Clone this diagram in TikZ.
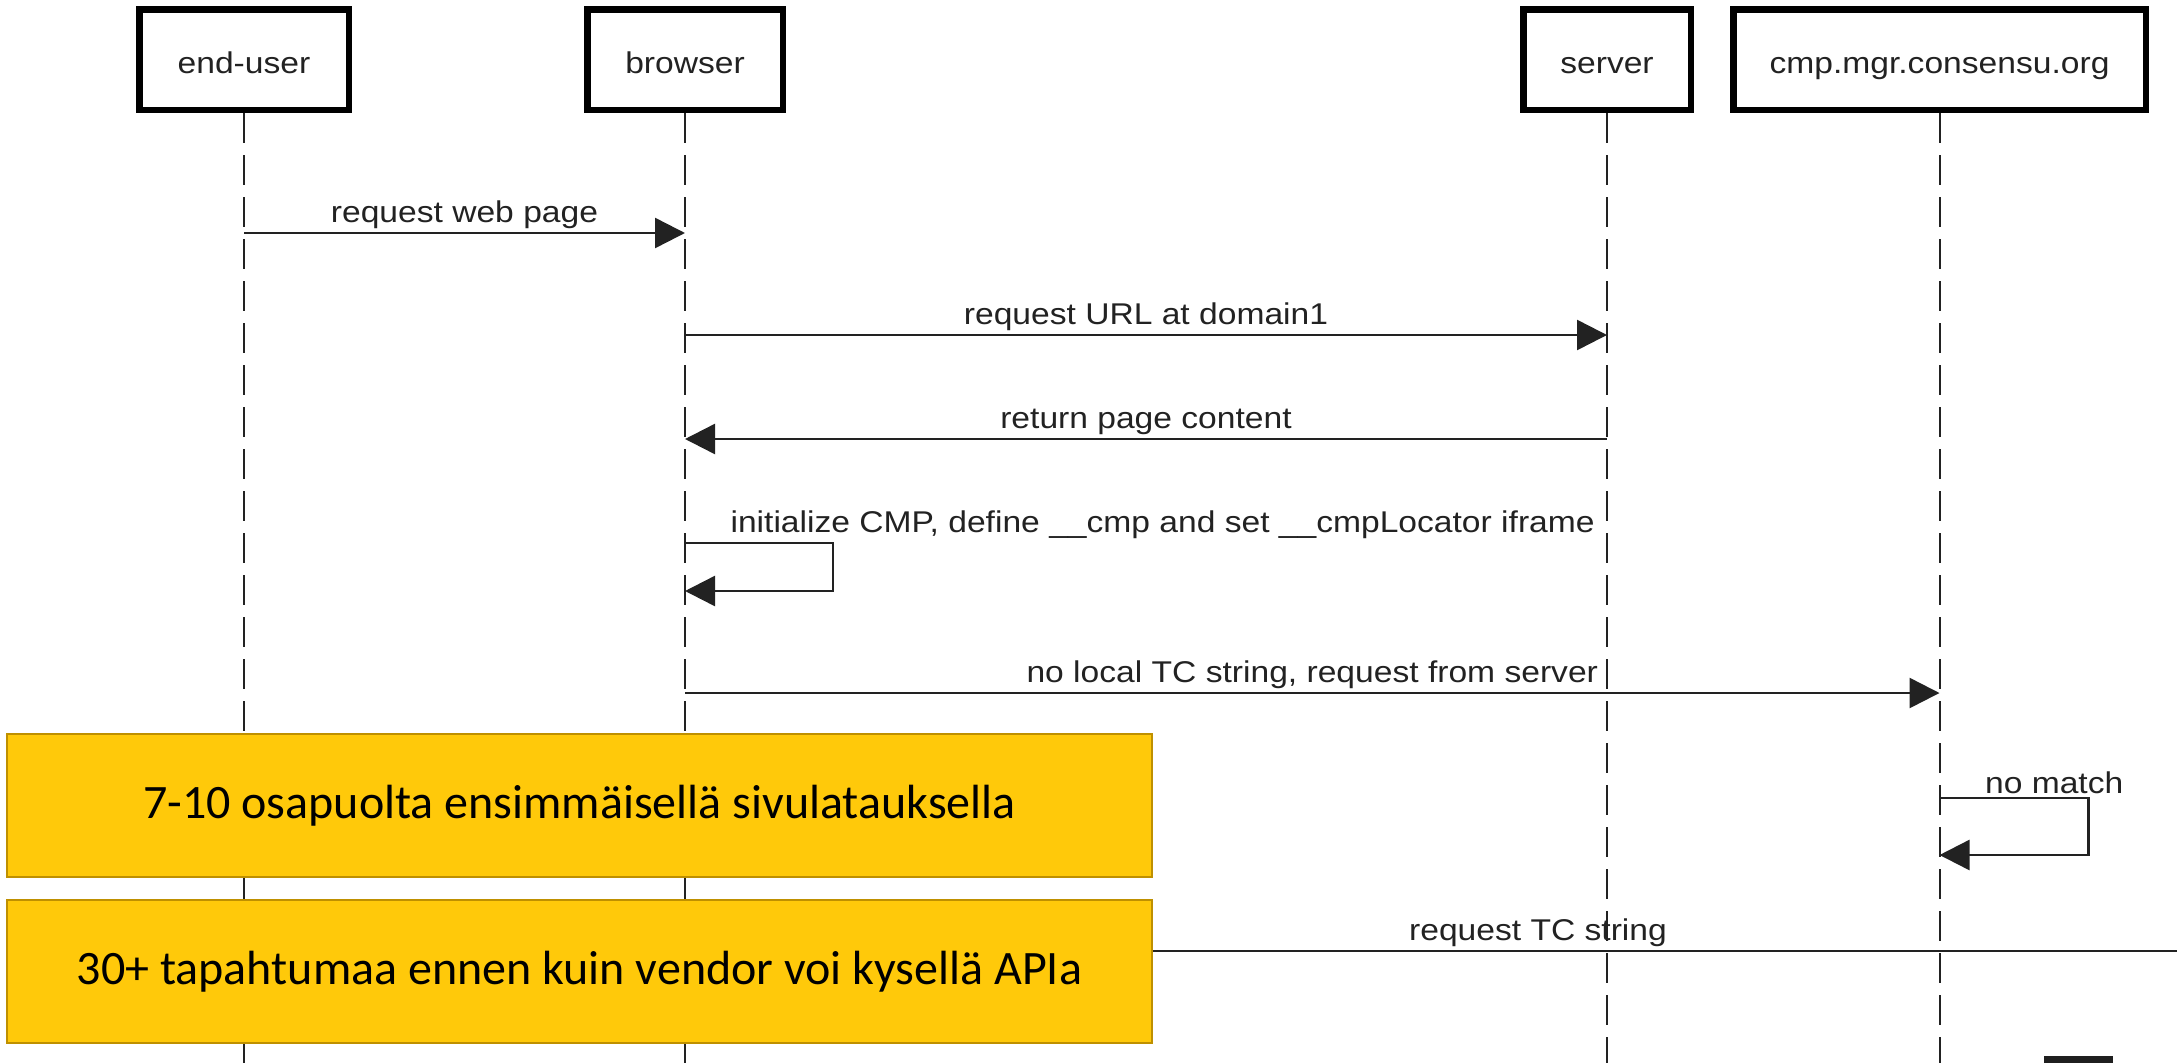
\documentclass[tikz,border=0pt]{standalone}
\usepackage{fontspec}
\setmainfont[FakeStretch=1.12]{Liberation Sans}
\newfontfamily\notefont{Carlito}
\usetikzlibrary{arrows.meta, positioning}

\definecolor{lineink}{HTML}{222222}
\definecolor{notefill}{HTML}{FFC90A}
\definecolor{noteline}{HTML}{BF9000}

\tikzset{
  actor/.style={draw=black, line width=6.5pt, minimum height=100.5pt, text=lineink,
    text height=29pt, text depth=2pt, font=\fontsize{30}{36}\selectfont},
  lifeline/.style={draw=lineink, line width=2pt, dash pattern=on 30pt off 12pt},
  msg/.style={draw=lineink, line width=2.5pt, -{Triangle[length=30pt,width=30pt]}},
  msglabel/.style={text=lineink, font=\fontsize{30}{36}\selectfont},
  note/.style={draw=noteline, fill=notefill, line width=2pt, minimum width=1145pt,
    minimum height=143pt, font=\notefont\fontsize{48}{58}\selectfont}
}

\begin{document}
\begin{tikzpicture}[x=1pt, y=1pt]
        \useasboundingbox (0,0) rectangle (2177,-1063);
        \clip (0,0) rectangle (2177,-1063);
        \fill[white] (0,0) rectangle (2177,-1063);

        % participants
        \node[actor, minimum width=209.5pt] (user) at (244,-59.5) {end-user};
        \node[actor, minimum width=195.5pt] (browser) [right=232pt of user] {browser};
        \node[actor, minimum width=167.5pt] (server) [right=734pt of browser] {server};
        \node[actor, minimum width=412.5pt] (cmp) [right=36pt of server] {cmp.mgr.consensu.org};

        \coordinate (bottom) at (0,-1063);
        \foreach \p in {user, browser, server, cmp}
            \draw[lifeline] (\p.south) -- (\p.south |- bottom);

        % message rows
        \coordinate (r1) at (0,-233);
        \coordinate (r2) at (0,-335);
        \coordinate (r3) at (0,-439);
        \coordinate (r4) at (0,-543);
        \coordinate (r4b) at (0,-591);
        \coordinate (r5) at (0,-693);
        \coordinate (r6) at (0,-798);
        \coordinate (r6b) at (0,-855);
        \coordinate (offpage) at (2391,-951);

        \draw[msg] (user |- r1) -- node[msglabel, above] {request web page} (browser |- r1);
        \draw[msg] (browser |- r2) -- node[msglabel, above] {request URL at domain1} (server |- r2);
        \draw[msg] (server |- r3) -- node[msglabel, above] {return page content} (browser |- r3);
        \draw[msg] (browser |- r4)
            node[msglabel, above right, xshift=41pt] {initialize CMP, define \_\_cmp and set \_\_cmpLocator iframe}
            -- ++(148,0) |- (browser |- r4b);
        \draw[msg] (browser |- r5) -- node[msglabel, above] {no local TC string, request from server} (cmp |- r5);
        \draw[msg] (cmp |- r6)
            node[msglabel, above right, xshift=41pt] {no match}
            -- ++(149,0) |- (cmp |- r6b);
        \draw[msg] (browser |- offpage) -- node[msglabel, above] {request TC string} (offpage);

        % notes
        \node[note] (note1) at (579.5,-805.5) {7-10 osapuolta ensimmäisellä sivulatauksella};
        \node[note] (note2) [below=21pt of note1] {30+ tapahtumaa ennen kuin vendor voi kysellä APIa};

        \fill[black!88] (2044,-1056) rectangle (2113,-1063);
\end{tikzpicture}
\end{document}
